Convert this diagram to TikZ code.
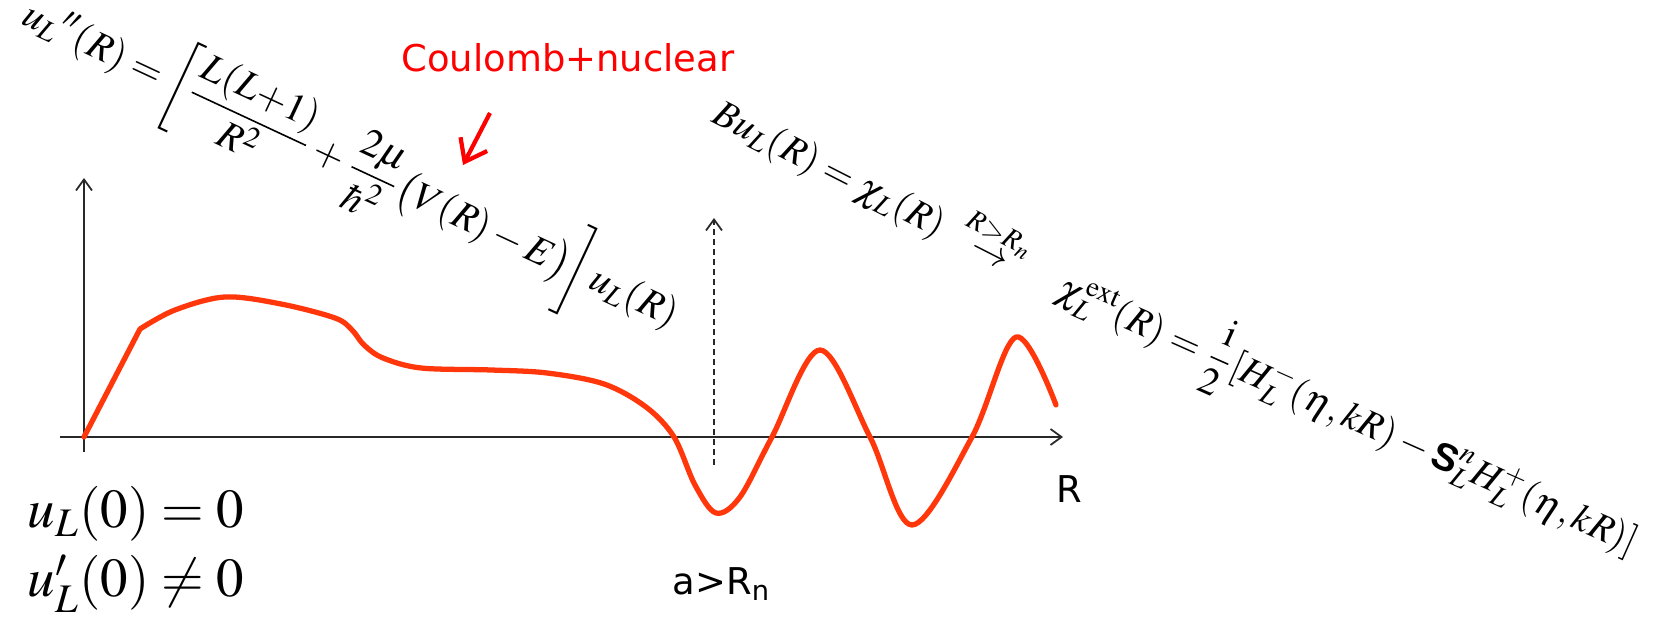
\documentclass[tikz,border=0pt]{standalone}
\usepackage{amsmath}
\usepackage{mathptmx}
\usepackage{fontspec}
\setmainfont{Liberation Serif}
\setsansfont{Liberation Sans}
\newfontfamily\slidefont{DejaVu Sans}
\usetikzlibrary{arrows.meta}
\definecolor{WaveRed}{RGB}{255,55,10}
\definecolor{NoteRed}{RGB}{255,0,0}
\definecolor{AxisGrey}{RGB}{40,40,40}

\begin{document}
\begin{tikzpicture}[x=0.1mm, y=-0.1mm,
    axis/.style={AxisGrey, line width=0.5pt, -{Straight Barb[length=1.1mm, width=1.6mm]}},
    wave/.style={WaveRed, line width=1.5pt, line join=round, line cap=round},
    eqn/.style={inner sep=0pt, font=\fontsize{11}{13}\selectfont},
    slide/.style={inner sep=0pt, font=\fontsize{10.5}{12.6}\slidefont}]
  \useasboundingbox (0,0) rectangle (1671,627);
  % axes
  \coordinate (orig) at (84,437);
  \coordinate (ytop) at (84,178);
  \coordinate (ybot) at (84,452);
  \coordinate (xleft) at (60,437);
  \coordinate (xright) at (1063,437);
  \draw[axis] (ybot) -- (ytop);
  \draw[axis] (xleft) -- (xright);
  \node[slide, anchor=base] (rlab) at (1069,503) {R};
  % matching radius
  \coordinate (abot) at (714,465);
  \coordinate (atop) at (714,218);
  \draw[axis, dash pattern=on 0.6mm off 0.4mm] (abot) -- (atop);
  \node[slide, anchor=base west] (match) at (672,595) {a>R\textsubscript{n}};
  % radial wave function
  \coordinate (kink) at (140,329);
  \draw[wave] (orig) -- (kink) plot[smooth, tension=0.55] coordinates {(140,329) (175,310) (225,297)
      (281,304) (335,318) (352,330) (364,345) (383,358) (421,368) (491,370) (547,373)
      (604,384) (646,407) (674,437) (695,485) (716,513) (740,497) (772,437) (820,350)
      (870,437) (912,525) (972,437) (1016,337) (1056,405)};
  % equations
  \node[eqn, rotate=-25, font=\fontsize{11.3}{13}\selectfont] (radeq) at (350,166)
      {$\displaystyle u_L{}''(R) = \left[\frac{L(L{+}1)}{R^2} + \frac{2\mu}{\hbar^2}\bigl(V(R)-E\bigr)\right]u_L(R)$};
  \node[eqn, rotate=-27] (bloch) at (872,184)
      {$Bu_L(R) = \chi_L(R)\ \overset{R>R_n}{\to}$};
  \node[eqn, rotate=-24] (extsol) at (1348,414)
      {$\displaystyle \chi_L^{\mathrm{ext}}(R) = \frac{\mathrm{i}}{2}[H_L^-(\eta,kR) - \text{\sffamily\bfseries S}_L^n H_L^+(\eta,kR)]$};
  \node[anchor=base west, inner sep=0pt, font=\fontsize{15.6}{18}\selectfont] (bcval) at (27,528) {$u_L(0) = 0$};
  \node[anchor=base west, inner sep=0pt, font=\fontsize{15.6}{18}\selectfont] (bcder) at (27,597) {$u'_L(0) \neq 0$};
  % potential note
  \node[slide, NoteRed, anchor=base east] (coul) at (735,72) {Coulomb+nuclear};
  \coordinate (pottail) at (490,113);
  \coordinate (pothead) at (463,165);
  \draw[NoteRed, line width=1.2pt, -{Straight Barb[length=2mm, width=3mm]}] (pottail) -- (pothead);
\end{tikzpicture}
\end{document}
